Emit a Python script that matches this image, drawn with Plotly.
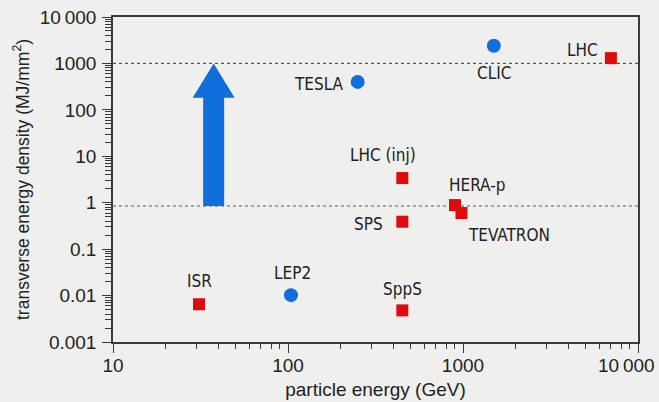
import numpy as np
import plotly.graph_objects as go

# Accelerators: particle energy (GeV) and transverse energy density (MJ/mm^2)
hadron_names = ["ISR", "SppS", "SPS", "LHC (inj)", "HERA-p", "TEVATRON", "LHC"]
hadron_energy = [31, 450, 450, 450, 900, 980, 7000]
hadron_density = [0.0065, 0.0048, 0.39, 3.4, 0.89, 0.60, 1300]

lepton_names = ["LEP2", "TESLA", "CLIC"]
lepton_energy = [104, 250, 1500]
lepton_density = [0.0102, 400, 2400]

# Horizontal reference levels and the vertical arrow between them
ref_levels = [1000, 0.85]
arrow_x = 37.6
arrow_from = 0.85
arrow_to = 1000

x_tickvals = [10, 100, 1000, 10000]
x_ticktext = ["10", "100", "1000", "10\u2009000"]
y_tickvals = [0.001, 0.01, 0.1, 1, 10, 100, 1000, 10000]
y_ticktext = ["0.001", "0.01", "0.1", "1", "10", "100", "1000", "10\u2009000"]

RED = "#e00a0a"
BLUE = "#0f6fdc"
INK = "#222222"
BG = "#efefed"
LABEL_FONT = dict(family="DejaVu Sans Condensed, Liberation Sans Narrow, sans-serif", size=17, color=INK)
AXIS_FONT = "Liberation Sans, Arial, sans-serif"
TICK_FONT = dict(family=AXIS_FONT, size=19, color=INK)

# label placement relative to each marker: (xanchor, xshift, yshift)
label_place = {
    "ISR": ("center", 1, 23),
    "SppS": ("center", 0, 21),
    "SPS": ("right", -17, -2),
    "LHC (inj)": ("center", -19, 23),
    "HERA-p": ("center", 22, 20),
    "TEVATRON": ("left", 5, -22),
    "LHC": ("right", -11, 8),
    "LEP2": ("center", 2, 22),
    "TESLA": ("right", -12, -2),
    "CLIC": ("center", 0, -27),
}

fig = go.Figure()

for lvl in ref_levels:
    fig.add_shape(type="line", xref="paper", x0=0, x1=1, yref="y", y0=lvl, y1=lvl,
                  line=dict(color="#555555", width=1.2, dash="dot"), layer="below")

# thick block arrow: pixel widths around a data anchor, data values vertically
head_base = arrow_to / 10 ** 0.74
shaft_hw, head_hw = 10.5, 21
arrow_path = (
    f"M {-shaft_hw},{arrow_from} L {shaft_hw},{arrow_from} L {shaft_hw},{head_base} "
    f"L {head_hw},{head_base} L 0,{arrow_to} L {-head_hw},{head_base} "
    f"L {-shaft_hw},{head_base} Z"
)
fig.add_shape(type="path", xref="x", yref="y", xsizemode="pixel", xanchor=arrow_x,
              path=arrow_path, fillcolor=BLUE, line=dict(width=0))

fig.add_trace(go.Scatter(
    x=hadron_energy, y=hadron_density, mode="markers",
    marker=dict(symbol="square", size=12, color=RED, line=dict(width=0)),
    hovertext=hadron_names, showlegend=False))
fig.add_trace(go.Scatter(
    x=lepton_energy, y=lepton_density, mode="markers",
    marker=dict(symbol="circle", size=14, color=BLUE, line=dict(width=0)),
    hovertext=lepton_names, showlegend=False))

for names, xs, ys in ((hadron_names, hadron_energy, hadron_density),
                      (lepton_names, lepton_energy, lepton_density)):
    for n, xv, yv in zip(names, xs, ys):
        anchor, dx, dy = label_place[n]
        fig.add_annotation(x=np.log10(xv), y=np.log10(yv), text=n, showarrow=False,
                           xanchor=anchor, yanchor="middle", xshift=dx, yshift=dy,
                           font=LABEL_FONT)

# the last x tick label sits flush with the page edge, so it is placed by hand
fig.add_annotation(xref="paper", yref="paper", x=1, y=0, text=x_ticktext[-1],
                   showarrow=False, xanchor="right", yanchor="middle",
                   xshift=19, yshift=-23, font=TICK_FONT)

axis_common = dict(
    type="log", showgrid=False, zeroline=False, automargin=False,
    showline=True, linecolor="#3a3a3a", linewidth=1.5, mirror=True,
    ticks="outside", ticklen=9, tickwidth=1.2, tickcolor="#3a3a3a",
    tickfont=TICK_FONT,
)

fig.update_xaxes(
    **axis_common, range=[1, 4], tickvals=x_tickvals,
    ticktext=x_ticktext[:-1] + [""],
    ticklabelstandoff=-4,
    title_text="particle energy (GeV)", title_standoff=8,
    title_font=dict(family=AXIS_FONT, size=19, color=INK),
    minor=dict(tickvals=[m * 10 ** k for k in range(1, 4) for m in range(2, 10)],
               ticks="outside", ticklen=5, tickwidth=1, tickcolor="#3a3a3a", showgrid=False),
)
fig.update_yaxes(
    **axis_common, range=[-3, 4], tickvals=y_tickvals, ticktext=y_ticktext,
    ticklabelstandoff=2,
    title_text="transverse energy density (MJ/mm<sup>2</sup>)", title_standoff=6,
    title_font=dict(family=AXIS_FONT, size=17.5, color=INK),
    minor=dict(tickvals=[m * 10 ** k for k in range(-3, 4) for m in range(2, 10)],
               ticks="outside", ticklen=6, tickwidth=1, tickcolor="#3a3a3a", showgrid=False),
)

fig.update_layout(
    width=659, height=402,
    margin=dict(l=113, r=21, t=17, b=60),
    paper_bgcolor=BG, plot_bgcolor=BG,
    showlegend=False,
)

fig.write_html("out.html")
